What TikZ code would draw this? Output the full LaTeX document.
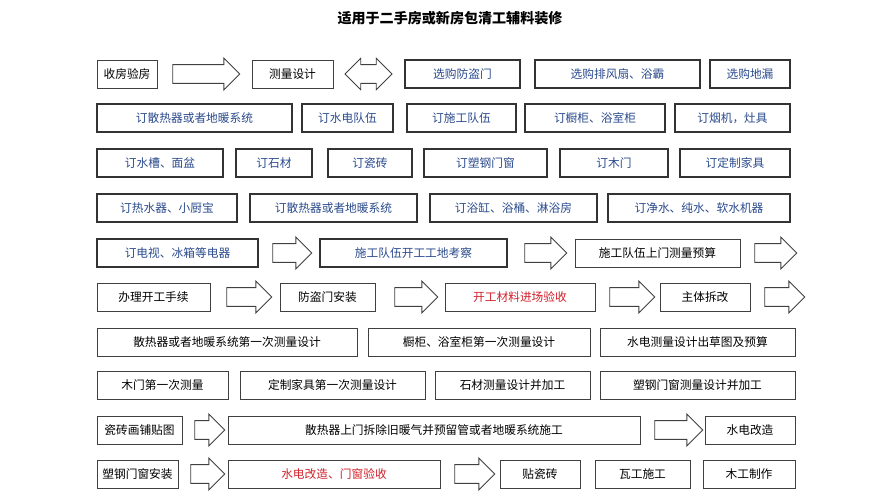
\documentclass[tikz,border=0pt]{standalone}
\usepackage{fontspec}
\setmainfont{Noto Sans CJK SC}
\usetikzlibrary{shapes.arrows}
\definecolor{step-blue}{HTML}{2A4A8C}
\definecolor{step-red}{HTML}{D0202A}

\newcommand\bx[6][]{\node[box,#1,minimum width={(#4-#3)*0.03cm}] (#2) at ({(#3+#4)/2},#5) {#6};}
\newcommand\arw[5][single arrow]{\node[blk,#1,minimum height={(#4-#3)*0.03cm}] (#2) at ({(#3+#4)/2},#5) {};}

\begin{document}
\begin{tikzpicture}[x=0.03cm, y=-0.03cm,
  box/.style={draw=black!75, line width=0.8pt, minimum height=0.84cm, inner sep=1pt, font=\fontsize{10}{12}\selectfont},
  blue/.style={text=step-blue, draw=black!80, line width=1pt},
  red/.style={text=step-red},
  blk/.style={draw=black!75, line width=0.7pt, inner sep=0.22cm, minimum width=0.95cm,
    single arrow head indent=0pt, double arrow head indent=0pt, single arrow head extend=0.16cm, double arrow head extend=0.16cm}]
  \useasboundingbox (0,0) rectangle (891,500);
  \node[font=\bfseries\fontsize{12}{14}\selectfont] (title) at (450,18) {适用于二手房或新房包清工辅料装修};

  % row 1
  \bx{r1a}{97}{157}{74}{收房验房}
  \arw{a1a}{168}{235}{74}
  \bx{r1b}{252}{333}{74}{测量设计}
  \arw[double arrow]{a1b}{345}{392}{74}
  \bx[blue]{r1c}{405}{520}{74}{选购防盗门}
  \bx[blue]{r1d}{535}{700}{74}{选购排风扇、浴霸}
  \bx[blue]{r1e}{710}{790}{74}{选购地漏}

  % row 2
  \bx[blue]{r2a}{97}{292}{118}{订散热器或者地暖系统}
  \bx[blue]{r2b}{302}{393}{118}{订水电队伍}
  \bx[blue]{r2c}{407}{516}{118}{订施工队伍}
  \bx[blue]{r2d}{525}{665}{118}{订橱柜、浴室柜}
  \bx[blue]{r2e}{675}{790}{118}{订烟机，灶具}

  % row 3
  \bx[blue]{r3a}{97}{223}{163}{订水槽、面盆}
  \bx[blue]{r3b}{236}{312}{163}{订石材}
  \bx[blue]{r3c}{328}{412}{163}{订瓷砖}
  \bx[blue]{r3d}{424}{547}{163}{订塑钢门窗}
  \bx[blue]{r3e}{560}{668}{163}{订木门}
  \bx[blue]{r3f}{680}{790}{163}{订定制家具}

  % row 4
  \bx[blue]{r4a}{97}{237}{208}{订热水器、小厨宝}
  \bx[blue]{r4b}{250}{417}{208}{订散热器或者地暖系统}
  \bx[blue]{r4c}{430}{597}{208}{订浴缸、浴桶、淋浴房}
  \bx[blue]{r4d}{608}{790}{208}{订净水、纯水、软水机器}

  % row 5
  \bx[blue]{r5a}{97}{258}{253}{订电视、冰箱等电器}
  \arw{a5a}{268}{307}{253}
  \bx[blue]{r5b}{320}{507}{253}{施工队伍开工工地考察}
  \arw{a5b}{520}{562}{253}
  \bx{r5c}{575}{740}{253}{施工队伍上门测量预算}
  \arw{a5c}{750}{792}{253}

  % row 6
  \bx{r6a}{97}{210}{297}{办理开工手续}
  \arw{a6a}{222}{267}{297}
  \bx{r6b}{280}{375}{297}{防盗门安装}
  \arw{a6b}{390}{433}{297}
  \bx[red]{r6c}{445}{595}{297}{开工材料进场验收}
  \arw{a6c}{605}{650}{297}
  \bx{r6d}{660}{750}{297}{主体拆改}
  \arw{a6d}{760}{800}{297}

  % row 7
  \bx{r7a}{97}{357}{342}{散热器或者地暖系统第一次测量设计}
  \bx{r7b}{368}{590}{342}{橱柜、浴室柜第一次测量设计}
  \bx{r7c}{600}{795}{342}{水电测量设计出草图及预算}

  % row 8
  \bx{r8a}{97}{228}{385}{木门第一次测量}
  \bx{r8b}{240}{425}{385}{定制家具第一次测量设计}
  \bx{r8c}{435}{590}{385}{石材测量设计并加工}
  \bx{r8d}{600}{795}{385}{塑钢门窗测量设计并加工}

  % row 9
  \bx{r9a}{97}{182}{430}{瓷砖画铺贴图}
  \arw{a9a}{190}{220}{430}
  \bx{r9b}{228}{640}{430}{散热器上门拆除旧暖气并预留管或者地暖系统施工}
  \arw{a9b}{650}{698}{430}
  \bx{r9c}{705}{795}{430}{水电改造}

  % row 10
  \bx{r10a}{97}{178}{474}{塑钢门窗安装}
  \arw{a10a}{186}{220}{474}
  \bx[red]{r10b}{228}{440}{474}{水电改造、门窗验收}
  \arw{a10b}{450}{490}{474}
  \bx{r10c}{500}{580}{474}{贴瓷砖}
  \bx{r10d}{595}{690}{474}{瓦工施工}
  \bx{r10e}{703}{795}{474}{木工制作}
\end{tikzpicture}
\end{document}
